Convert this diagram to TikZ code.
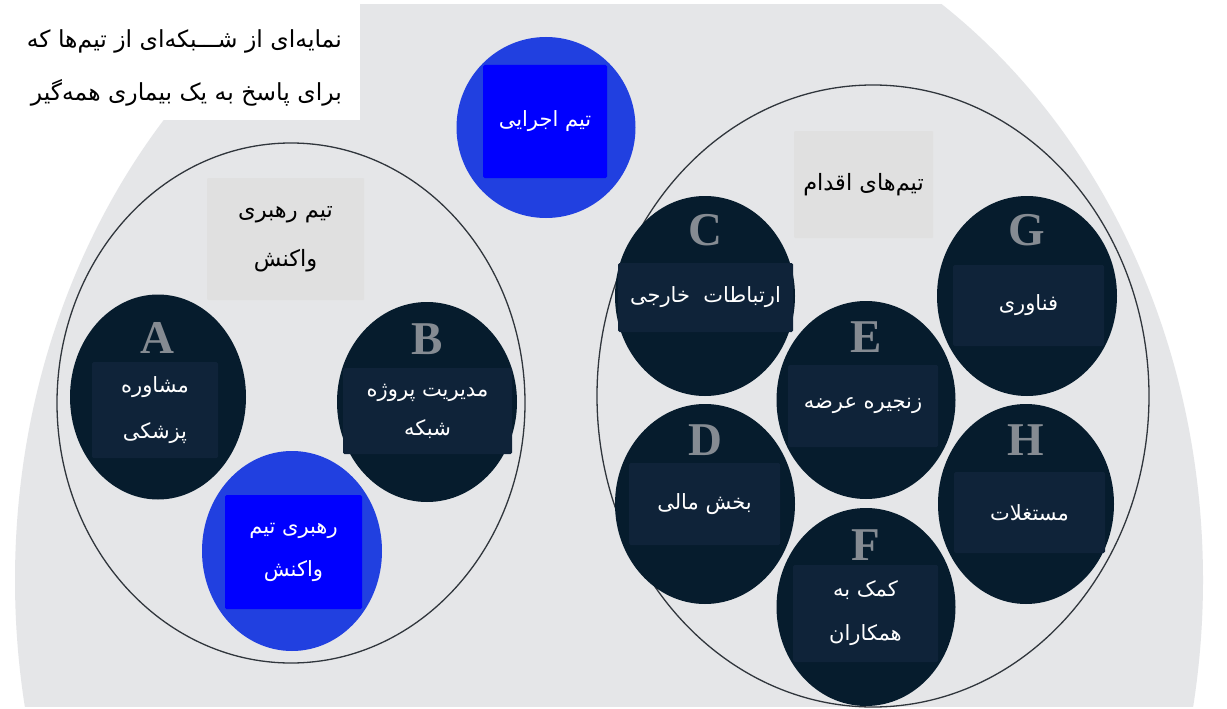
\documentclass[tikz,border=0pt]{standalone}
\usepackage{fontspec}
\usetikzlibrary{shapes.geometric}
\TeXXeTstate=1
\newfontfamily\fa[Script=Arabic]{DejaVu Sans}
\newfontfamily\latinserif{Liberation Serif}
\newcommand{\rl}[1]{\beginR#1\endR}
\definecolor{bggrey}{HTML}{E5E6E8}
\definecolor{labelgrey}{HTML}{E0E0E0}
\definecolor{navy}{HTML}{061C2D}
\definecolor{navyrect}{HTML}{0F2339}
\definecolor{bluecircle}{HTML}{2140E0}
\definecolor{bluerect}{HTML}{0000FF}
\definecolor{lettergrey}{HTML}{858B92}
\definecolor{outline}{HTML}{30363C}
\tikzset{
  grp/.style={draw=outline, line width=1.3pt},
  team/.style={ellipse, fill=navy, inner sep=0pt, minimum width=180pt, minimum height=200pt},
  blueteam/.style={ellipse, fill=bluecircle, inner sep=0pt, minimum width=180pt, minimum height=200pt},
  namebox/.style={rectangle, fill=navyrect, rounded corners=1.5pt, inner sep=0pt, text=white, align=center, font=\fa\fontsize{21}{46}\selectfont},
  bluebox/.style={rectangle, fill=bluerect, rounded corners=1.5pt, inner sep=0pt, text=white, align=center, font=\fa\fontsize{21}{43}\selectfont},
  grouplabel/.style={rectangle, fill=labelgrey, rounded corners=1pt, inner sep=0pt, text=black, align=center, font=\fa\fontsize{22.5}{49}\selectfont},
  letter/.style={inner sep=0pt, text=lettergrey, font=\latinserif\bfseries\fontsize{47}{47}\selectfont},
}
\begin{document}
\begin{tikzpicture}[x=1pt,y=-1pt]
\useasboundingbox (0,0) rectangle (1227,709);
\fill[white] (0,0) rectangle (1227,709);
% big background shape
\begin{scope}
  \clip (0,5) rectangle (1227,706);
  \fill[bggrey] (609,580) ellipse [x radius=594pt, y radius=695pt];
\end{scope}
% title box
\node[rectangle, fill=white, inner sep=0pt, minimum width=360pt, minimum height=120pt, anchor=north west] (titlebox) at (0,0) {};
\node[anchor=east, inner sep=0pt, align=right, font=\fa\fontsize{23.5}{53}\selectfont] (title) at (342,68)
  {\rl{نمایه^^^^200cای از شـــبکه^^^^200cای از تیم^^^^200cها  که}\\\rl{برای پاسخ به یک بیماری همه^^^^200cگیر}};
% group outlines
\node[grp, ellipse, inner sep=0pt, minimum width=468pt, minimum height=520pt] (leadgroup) at (291,403) {};
\node[grp, ellipse, inner sep=0pt, minimum width=552pt, minimum height=622pt] (actgroup) at (873,396) {};
% group labels
\node[grouplabel, minimum width=157pt, minimum height=122pt] (leadlabel) at (285.5,239) {\rl{تیم رهبری}\\\rl{واکنش}};
\node[grouplabel, minimum width=139pt, minimum height=107pt] (actlabel) at (863.5,184.5) {\rl{تیم^^^^200cهای اقدام}};
% executive team
\node[blueteam, minimum width=179pt, minimum height=181pt] (exec) at (546,127.5) {};
\node[bluebox, minimum width=124pt, minimum height=113pt] (execbox) at (545,121.5) {\rl{تیم اجرایی}};
% leadership team members
\node[team, minimum width=176pt, minimum height=205pt] (A) at (158,397) {};
\node[namebox, minimum width=126pt, minimum height=96pt] (Abox) at (155,410) {\rl{مشاوره}\\\rl{پزشکی}};
\node[letter] (Aletter) at (157,338) {A};
\node[team] (B) at (427,402) {};
\node[namebox, minimum width=169pt, minimum height=86pt, font=\fa\fontsize{21}{39}\selectfont] (Bbox) at (427.5,411) {\rl{مدیریت پروژه}\\\rl{شبکه}};
\node[letter] (Bletter) at (427,339) {B};
\node[blueteam] (lead) at (292,551) {};
\node[bluebox, minimum width=137pt, minimum height=114pt] (leadbox) at (293.5,552) {\rl{رهبری تیم}\\\rl{واکنش}};
% action teams
\node[team] (C) at (705,296) {};
\node[namebox, minimum width=175pt, minimum height=69pt] (Cbox) at (705.5,297.5) {\rl{ارتباطات\ \ خارجی}};
\node[letter] (Cletter) at (705,230) {C};
\node[team] (G) at (1027,296) {};
\node[namebox, minimum width=151pt, minimum height=81pt] (Gbox) at (1028.5,305.5) {\rl{فناوری}};
\node[letter] (Gletter) at (1027,230) {G};
\node[team, minimum width=179pt, minimum height=198pt] (E) at (866,400) {};
\node[namebox, minimum width=150pt, minimum height=82pt] (Ebox) at (863,406) {\rl{زنجیره عرضه}};
\node[letter] (Eletter) at (866,337) {E};
\node[team] (D) at (705,504) {};
\node[namebox, minimum width=151pt, minimum height=82pt] (Dbox) at (704.5,504) {\rl{بخش مالی}};
\node[letter] (Dletter) at (705,440) {D};
\node[team, minimum width=176pt] (H) at (1026,504) {};
\node[namebox, minimum width=151pt, minimum height=81pt] (Hbox) at (1029.5,512.5) {\rl{مستغلات}};
\node[letter] (Hletter) at (1026,440) {H};
\node[team, minimum width=179pt, minimum height=198pt] (F) at (866,607) {};
\node[namebox, minimum width=145pt, minimum height=97pt, font=\fa\fontsize{21}{44}\selectfont] (Fbox) at (865.5,613.5) {\rl{کمک به}\\\rl{همکاران}};
\node[letter] (Fletter) at (866,545) {F};
\end{tikzpicture}
\end{document}
